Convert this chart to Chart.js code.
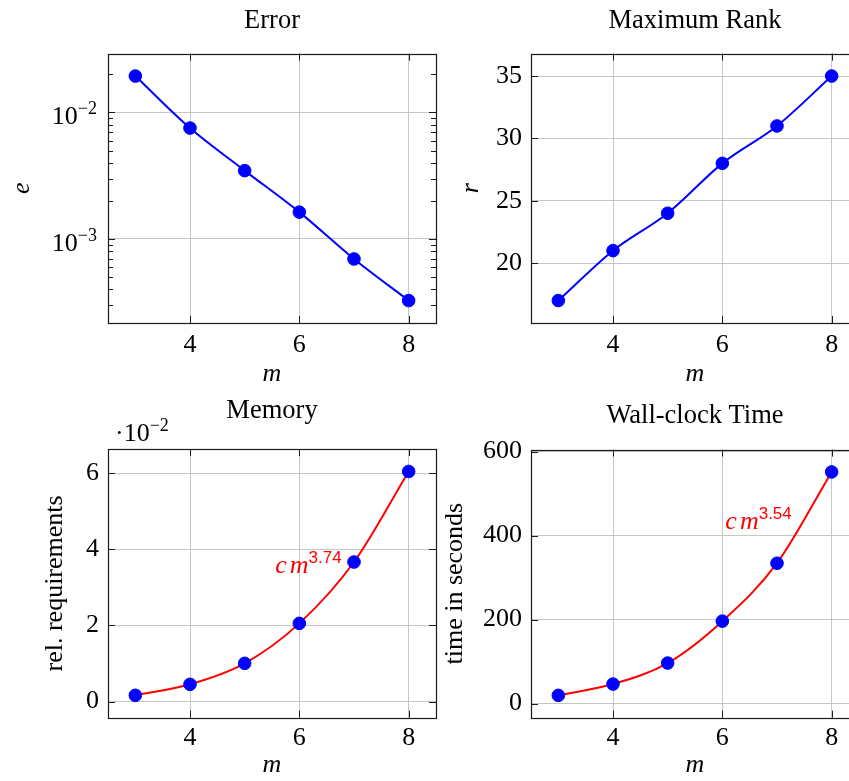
<!DOCTYPE html>
<html lang="en">
<head>
<meta charset="utf-8" />
<title>Error, maximum rank, memory and wall-clock time over m</title>
<script src="https://cdn.jsdelivr.net/npm/chart.js"></script>
<style>
    html, body {
        margin: 0;
        padding: 0;
        background: #fff;
        overflow: hidden;
    }

    .figure {
        position: relative;
        width: 849px;
        height: 781px;
        overflow: hidden;
    }

    .figure canvas {
        position: absolute;
    }

    #errorChart { left: 0; top: 0; }
    #rankChart { left: 440px; top: 0; }
    #memoryChart { left: 0; top: 390px; }
    #timeChart { left: 440px; top: 390px; }
</style>
</head>
<body>
<div class="figure">
    <canvas id="errorChart" width="450" height="390"></canvas>
    <canvas id="rankChart" width="440" height="390"></canvas>
    <canvas id="memoryChart" width="450" height="391"></canvas>
    <canvas id="timeChart" width="440" height="391"></canvas>
</div>

<script>
    // data
    const mValues = [3, 4, 5, 6, 7, 8];
    const errorValues = [0.0194, 0.00753, 0.00347, 0.00163, 0.000695, 0.000326];
    const rankValues = [17, 21, 24, 28, 31, 35];
    const memoryValues = [0.165, 0.454, 1.005, 2.055, 3.667, 6.045];   // times 10^-2
    const timeValues = [19.7, 46.6, 96.6, 196.4, 334.4, 551.7];

    // tick labels
    const mTicks = [4, 6, 8];
    const errorTicks = [1e-3, 1e-2];
    const rankTicks = [20, 25, 30, 35];
    const memoryTicks = [0, 2, 4, 6];
    const timeTicks = [0, 200, 400, 600];

    const SERIF = '"Liberation Serif", "DejaVu Serif", serif';
    const SANS = '"Liberation Sans", "DejaVu Sans", sans-serif';
    const BLUE = '#0000ff';
    const RED = '#ff0000';
    const GRID = '#c6c6c6';
    const FRAME = '#1a1a1a';

    const tickFont = { family: SERIF, size: 26 };
    const mathFont = { family: SERIF, size: 26, style: 'italic' };

    function points(ys) {
        return mValues.map((m, i) => ({ x: m, y: ys[i] }));
    }

    // pgfplots style: data range enlarged by 10% on each side
    function limits(values, log) {
        const v = log ? values.map(Math.log10) : values;
        const lo = Math.min(...v), hi = Math.max(...v), pad = (hi - lo) * 0.1;
        return log ? [10 ** (lo - pad), 10 ** (hi + pad)] : [lo - pad, hi + pad];
    }

    // text in pieces, e.g. base + raised exponent
    function drawRun(ctx, runs, x, y, align) {
        const widths = runs.map(r => { ctx.font = r.font; return ctx.measureText(r.text).width + (r.gap || 0); });
        const total = widths.reduce((a, b) => a + b, 0);
        let cx = align === 'right' ? x - total : x;
        ctx.textAlign = 'left';
        ctx.textBaseline = 'alphabetic';
        runs.forEach((r, i) => {
            ctx.font = r.font;
            ctx.fillStyle = r.color || '#000';
            ctx.fillText(r.text, cx, y - (r.rise || 0));
            cx += widths[i];
        });
    }

    // box, inside tick marks, extra drawing
    function framePlugin(minorTicks, extra) {
        return {
            id: 'frame',
            afterDraw(chart) {
                const { ctx, chartArea: a, scales: { x, y } } = chart;
                ctx.save();
                ctx.strokeStyle = FRAME;
                ctx.lineWidth = 1;
                ctx.beginPath();
                x.ticks.forEach(t => {
                    const px = Math.round(x.getPixelForValue(t.value)) + 0.5;
                    ctx.moveTo(px, a.bottom); ctx.lineTo(px, a.bottom - 7);
                    ctx.moveTo(px, a.top); ctx.lineTo(px, a.top + 7);
                });
                y.ticks.forEach(t => {
                    const py = Math.round(y.getPixelForValue(t.value)) + 0.5;
                    ctx.moveTo(a.left, py); ctx.lineTo(a.left + 7, py);
                    ctx.moveTo(a.right, py); ctx.lineTo(a.right - 7, py);
                });
                (minorTicks || []).forEach(v => {
                    const py = Math.round(y.getPixelForValue(v)) + 0.5;
                    if (py < a.top || py > a.bottom) return;
                    ctx.moveTo(a.left, py); ctx.lineTo(a.left + 5, py);
                    ctx.moveTo(a.right, py); ctx.lineTo(a.right - 5, py);
                });
                ctx.stroke();
                ctx.lineWidth = 1.2;
                ctx.strokeRect(Math.round(a.left) + 0.5, Math.round(a.top) + 0.5,
                    Math.round(a.right - a.left), Math.round(a.bottom - a.top));
                if (extra) extra(chart);
                ctx.restore();
            }
        };
    }

    function xScale(height, pad) {
        const [min, max] = limits(mValues);
        return {
            type: 'linear', min, max, bounds: 'data',
            afterBuildTicks: s => { s.ticks = mTicks.map(v => ({ value: v })); },
            afterFit: s => { s.height = height; },
            grid: { color: GRID, drawTicks: false },
            border: { display: false },
            ticks: { font: tickFont, color: '#000', padding: pad },
            title: { display: true, text: 'm', font: mathFont, color: '#000', padding: { top: 0, bottom: 0 } }
        };
    }

    function yScale(values, ticks, width, label, labelFont, labelPad, log) {
        const [min, max] = limits(values, log);
        return {
            type: log ? 'logarithmic' : 'linear', min, max, bounds: 'data',
            afterBuildTicks: s => { s.ticks = ticks.map(v => ({ value: v })); },
            afterFit: s => { s.width = width; },
            grid: { color: GRID, drawTicks: false },
            border: { display: false },
            ticks: { display: !log, font: tickFont, color: '#000', padding: 9 },
            title: { display: true, text: label, font: labelFont, color: '#000', padding: { top: labelPad, bottom: 0 } }
        };
    }

    function baseOptions(title, titlePad, padRight, x, y) {
        return {
            responsive: false,
            animation: false,
            layout: { padding: { left: 0, right: padRight, top: 0, bottom: 0 } },
            plugins: {
                legend: { display: false },
                tooltip: { enabled: false },
                title: {
                    display: true, fullSize: false, text: title,
                    font: { family: SERIF, size: 26.5, weight: 'normal' }, color: '#000', padding: titlePad
                }
            },
            scales: { x, y }
        };
    }

    const markers = ys => ({
        data: points(ys), showLine: false, pointRadius: 6.3, pointHoverRadius: 6.3,
        pointBackgroundColor: BLUE, pointBorderColor: BLUE, pointBorderWidth: 1, clip: false
    });
    const curve = (ys, color) => ({
        data: points(ys), borderColor: color, borderWidth: 2, pointRadius: 0,
        cubicInterpolationMode: 'monotone', clip: false
    });

    // Error (log axis)
    const errorMinor = [];
    [-4, -3, -2].forEach(k => { for (let d = 2; d <= 9; d++) errorMinor.push(d * 10 ** k); });
    new Chart(document.getElementById('errorChart'), {
        type: 'line',
        data: { datasets: [markers(errorValues), curve(errorValues, BLUE)] },
        options: baseOptions('Error', { top: 5, bottom: 16.8 }, 14, xScale(67, 7),
            yScale(errorValues, errorTicks, 108, 'e', mathFont, 7, true)),
        plugins: [framePlugin(errorMinor, chart => {
            const { ctx, chartArea: a, scales: { y } } = chart;
            errorTicks.forEach(v => {
                const py = y.getPixelForValue(v);
                drawRun(ctx, [
                    { text: '10', font: `26px ${SERIF}` },
                    { text: '\u2212' + Math.abs(Math.round(Math.log10(v))), font: `18px ${SERIF}`, rise: 10 }
                ], a.left - 11, py + 12, 'right');
            });
        })]
    });

    // Maximum Rank
    new Chart(document.getElementById('rankChart'), {
        type: 'line',
        data: { datasets: [markers(rankValues), curve(rankValues, BLUE)] },
        options: baseOptions('Maximum Rank', { top: 5, bottom: 16.8 }, 21, xScale(67, 7),
            yScale(rankValues, rankTicks, 91, 'r', mathFont, 16, false)),
        plugins: [framePlugin()]
    });

    // Memory, values scaled by 10^-2
    new Chart(document.getElementById('memoryChart'), {
        type: 'line',
        data: { datasets: [markers(memoryValues), curve(memoryValues, RED)] },
        options: baseOptions('Memory', { top: 5, bottom: 22.3 }, 14, xScale(63.3, 5),
            yScale(memoryValues, memoryTicks, 108, 'rel. requirements', tickFont, 40, false)),
        plugins: [framePlugin(null, chart => {
            const { ctx, scales: { x, y } } = chart;
            drawRun(ctx, [
                { text: '\u00b710', font: `26px ${SERIF}` },
                { text: '\u22122', font: `18px ${SERIF}`, rise: 10 }
            ], 115, 51, 'left');
            drawRun(ctx, [
                { text: 'c', font: `italic 26px ${SERIF}`, color: RED, gap: 3 },
                { text: 'm', font: `italic 26px ${SERIF}`, color: RED },
                { text: '3.74', font: `17px ${SANS}`, color: RED, rise: 10 }
            ], x.getPixelForValue(6.775), y.getPixelForValue(3.386), 'right');
        })]
    });

    // Wall-clock Time
    new Chart(document.getElementById('timeChart'), {
        type: 'line',
        data: { datasets: [markers(timeValues), curve(timeValues, RED)] },
        options: baseOptions('Wall-clock Time', { top: 10, bottom: 17.8 }, 21, xScale(63.3, 5),
            yScale(timeValues, timeTicks, 91, 'time in seconds', tickFont, 0, false)),
        plugins: [framePlugin(null, chart => {
            const { ctx, scales: { x, y } } = chart;
            drawRun(ctx, [
                { text: 'c', font: `italic 26px ${SERIF}`, color: RED, gap: 3 },
                { text: 'm', font: `italic 26px ${SERIF}`, color: RED },
                { text: '3.54', font: `17px ${SANS}`, color: RED, rise: 10 }
            ], x.getPixelForValue(7.27), y.getPixelForValue(417), 'right');
        })]
    });
</script>
</body>
</html>
